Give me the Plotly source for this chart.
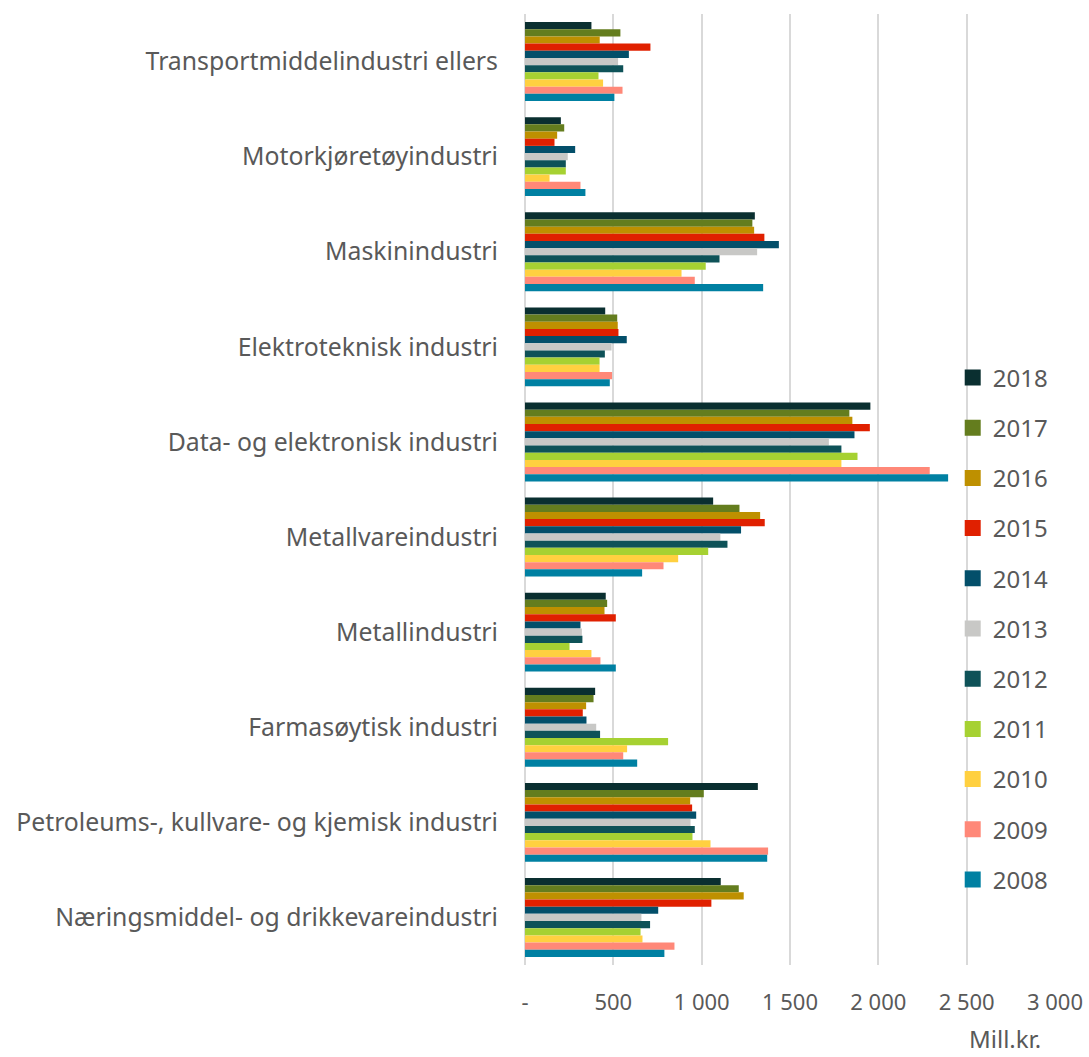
import plotly.graph_objects as go

categories = [
    "Transportmiddelindustri ellers",
    "Motorkjøretøyindustri",
    "Maskinindustri",
    "Elektroteknisk industri",
    "Data- og elektronisk industri",
    "Metallvareindustri",
    "Metallindustri",
    "Farmasøytisk industri",
    "Petroleums-, kullvare- og kjemisk industri",
    "Næringsmiddel- og drikkevareindustri",
]

years = ["2018", "2017", "2016", "2015", "2014", "2013", "2012", "2011", "2010", "2009", "2008"]

# values per year, in category order above (Mill.kr.)
v2018 = [376, 203, 1301, 454, 1955, 1065, 457, 397, 1318, 1108]
v2017 = [540, 222, 1287, 522, 1836, 1214, 465, 388, 1012, 1210]
v2016 = [423, 182, 1297, 525, 1853, 1331, 450, 346, 935, 1238]
v2015 = [710, 167, 1355, 529, 1952, 1357, 514, 327, 946, 1055]
v2014 = [588, 284, 1437, 576, 1865, 1223, 314, 348, 969, 754]
v2013 = [527, 242, 1314, 490, 1720, 1106, 322, 403, 937, 659]
v2012 = [556, 231, 1101, 452, 1791, 1146, 325, 425, 961, 708]
v2011 = [416, 231, 1023, 422, 1882, 1037, 252, 810, 948, 654]
v2010 = [442, 139, 886, 422, 1791, 867, 376, 578, 1050, 665]
v2009 = [552, 314, 961, 493, 2291, 784, 427, 556, 1376, 846]
v2008 = [506, 342, 1348, 480, 2395, 663, 514, 635, 1371, 789]

series = [v2018, v2017, v2016, v2015, v2014, v2013, v2012, v2011, v2010, v2009, v2008]

colors = ["#0A2F30", "#647D1E", "#BE9000", "#E02000", "#034F6A", "#C8C8C6",
          "#0E5258", "#A6D132", "#FFD040", "#FF8878", "#0080A2"]

tick_vals = [0, 500, 1000, 1500, 2000, 2500, 3000]
tick_text = ["-", "500", "1 000", "1 500", "2 000", "2 500", "3 000"]

FONT = "Noto Sans"
GREY = "#595959"
FS = 24

fig = go.Figure()
for yr, vals, col in zip(years, series, colors):
    fig.add_trace(go.Bar(
        y=categories, x=vals, name=yr, orientation="h", legendgroup=yr,
        showlegend=False,
        marker=dict(color=col, line=dict(width=0)),
    ))
# legend entries with larger square swatches
for yr, col in zip(years, colors):
    fig.add_trace(go.Scatter(
        x=[None], y=[None], name=yr, legendgroup=yr, mode="markers",
        marker=dict(symbol="square", size=16, color=col),
    ))

fig.update_layout(
    width=1089, height=1057,
    margin=dict(l=525, r=34, t=14, b=92),
    paper_bgcolor="white", plot_bgcolor="white",
    barmode="group", bargap=0.17, bargroupgap=0,
    font=dict(family=FONT, color=GREY, size=FS),
    legend=dict(
        x=0.807, xanchor="left", y=0.641, yanchor="top",
        font=dict(family=FONT, size=FS, color=GREY),
        tracegroupgap=16, itemwidth=30, bgcolor="rgba(255,255,255,0)",
    ),
    showlegend=True,
)

fig.update_xaxes(
    range=[0, 3000], tickvals=tick_vals, ticktext=tick_text,
    showgrid=True, gridcolor="#D9D9D9", gridwidth=2,
    zeroline=True, zerolinecolor="#D9D9D9", zerolinewidth=2,
    showline=False, ticks="", ticklabelstandoff=22, automargin=False,
    tickfont=dict(family=FONT, size=22, color=GREY),
)
fig.update_yaxes(
    autorange="reversed", showgrid=False, zeroline=False, showline=False,
    ticks="", ticklabelstandoff=26, automargin=False,
    tickfont=dict(family=FONT, size=24.8, color=GREY),
)

fig.add_annotation(
    text="Mill.kr.", x=0.905, y=-0.0778, xref="paper", yref="paper",
    xanchor="center", yanchor="middle", showarrow=False, borderpad=0,
    font=dict(family=FONT, size=FS, color=GREY),
)

fig.write_html(
    "out.html",
    config={"displayModeBar": False},
    post_script="document.body.style.margin='0';document.body.style.overflow='hidden';",
)
